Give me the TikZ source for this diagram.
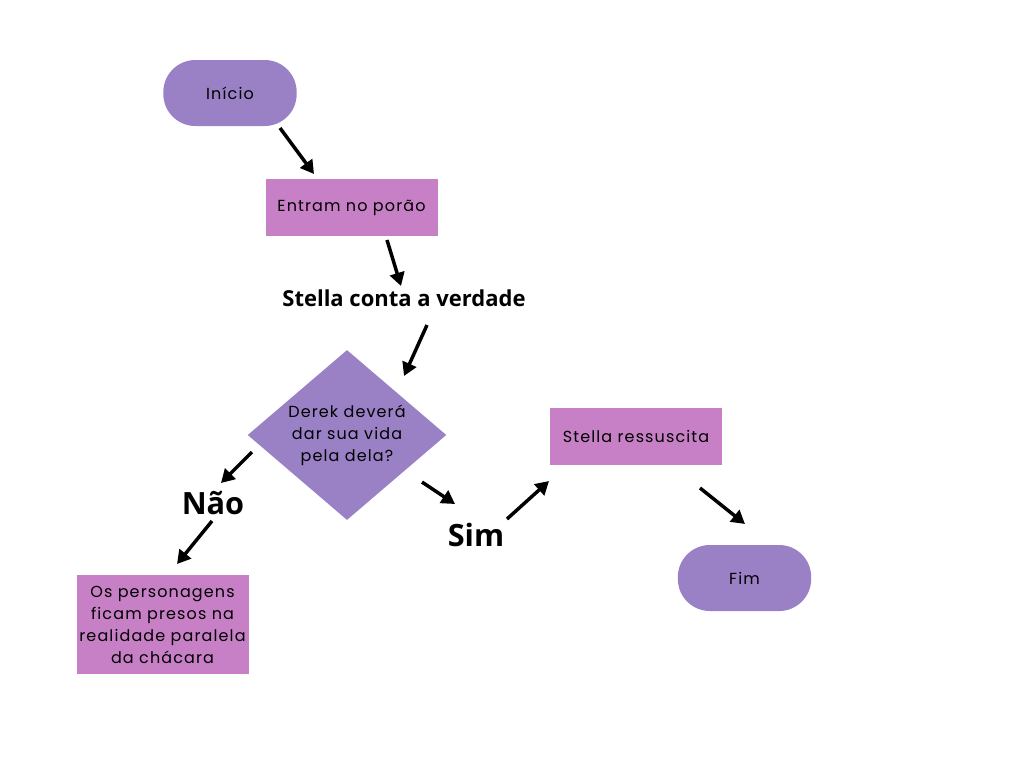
\documentclass[tikz,border=0pt]{standalone}
\usepackage{fontspec}
\setmainfont{Open Sans}
\newfontfamily\boxfont[LetterSpace=7]{Poppins}
\usetikzlibrary{shapes.geometric,arrows.meta}
\definecolor{lilac}{RGB}{154,129,198}
\definecolor{orchid}{RGB}{199,128,198}
\begin{document}
\begin{tikzpicture}[x=0.75pt,y=-0.75pt,
    boxtext/.style={font=\boxfont\fontsize{12}{16.5}\selectfont, align=center},
    pill/.style={boxtext, fill=lilac, rounded corners=24pt, minimum width=100pt, minimum height=49.5pt, inner sep=0pt},
    card/.style={boxtext, fill=orchid, minimum width=129pt, minimum height=42.75pt, inner sep=0pt},
    tag/.style={font=\bfseries\fontsize{16.5}{19}\selectfont, inner sep=0pt},
    answer/.style={font=\bfseries\fontsize{23}{26}\selectfont, inner sep=0pt},
    link/.style={line width=2.6pt, -{Triangle[length=10pt,width=11pt]}}]
    \useasboundingbox (0,0) rectangle (1024,768);

    % boxes
    \node[pill] (inicio) at (230,93) {Início};
    \node[card] (entram) at (351.5,207.5) {Entram no porão};
    \node[tag] (conta) at (404,298) {Stella conta a verdade};
    \node[boxtext, diamond, fill=lilac, aspect=1.17, minimum width=149pt, minimum height=127.5pt, inner sep=0pt] (pergunta) at (347,435) {Derek deverá\\dar sua vida\\pela dela?};
    \node[answer] (nao) at (213,503) {Não};
    \node[answer] (sim) at (476,535) {Sim};
    \node[card, minimum height=74.25pt] (presos) at (162.5,624.5) {Os personagens\\ficam presos na\\realidade paralela\\da chácara};
    \node[card] (ressuscita) at (636,436.5) {Stella ressuscita};
    \node[pill] (fim) at (744.5,578) {Fim};

    % arrow ends
    \coordinate (inicio-out) at (280,128);
    \coordinate (entram-in) at (314,174);
    \coordinate (entram-out) at (387,240);
    \coordinate (conta-in) at (401,286);
    \coordinate (conta-out) at (427,325);
    \coordinate (pergunta-in) at (404,376);
    \coordinate (pergunta-nao) at (252,452);
    \coordinate (nao-in) at (221,483);
    \coordinate (nao-out) at (212,521);
    \coordinate (presos-in) at (177,564);
    \coordinate (pergunta-sim) at (422,482);
    \coordinate (sim-in) at (455,504);
    \coordinate (sim-out) at (507,519);
    \coordinate (ressuscita-in) at (549,481);
    \coordinate (ressuscita-out) at (700,488);
    \coordinate (fim-in) at (745,524);

    % arrows
    \draw[link] (inicio-out) -- (entram-in);
    \draw[link] (entram-out) -- (conta-in);
    \draw[link] (conta-out) -- (pergunta-in);
    \draw[link] (pergunta-nao) -- (nao-in);
    \draw[link] (nao-out) -- (presos-in);
    \draw[link] (pergunta-sim) -- (sim-in);
    \draw[link] (sim-out) -- (ressuscita-in);
    \draw[link] (ressuscita-out) -- (fim-in);
\end{tikzpicture}
\end{document}
